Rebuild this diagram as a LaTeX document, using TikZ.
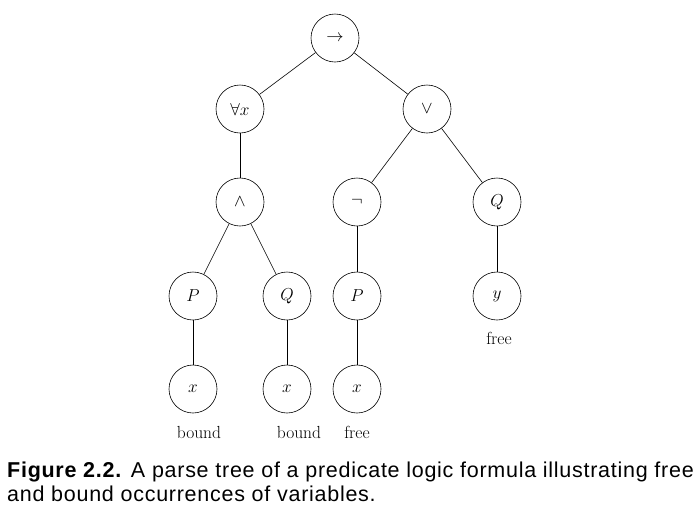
\documentclass[tikz,border=0pt]{standalone}
\usepackage{fontspec}
\newfontfamily\capfont[LetterSpace=3.4]{Liberation Sans}
\begin{document}
\begin{tikzpicture}[x=1pt,y=-1pt,
  tn/.style={draw,circle,minimum size=48pt,inner sep=0pt,line width=0.6pt,font=\fontsize{17.5}{20}\selectfont},
  lbl/.style={font=\fontsize{17.5}{20}\selectfont},
  captext/.style={anchor=base west,inner sep=0pt,font=\capfont\fontsize{21.5}{24}\selectfont},
  edge/.style={line width=0.6pt}]
\useasboundingbox (0,0) rectangle (699,512);
\node[tn] (root) at (335,38) {$\rightarrow$};
\node[tn] (fa) at (240,109) {$\forall x$};
\node[tn] (or) at (427,109) {$\vee$};
\node[tn] (and) at (240,202) {$\wedge$};
\node[tn] (neg) at (357,202) {$\neg$};
\node[tn] (q1) at (497,202) {$Q$};
\node[tn] (p1) at (193,296) {$P$};
\node[tn] (q2) at (287,296) {$Q$};
\node[tn] (p2) at (357,296) {$P$};
\node[tn] (y) at (497,296) {$y$};
\node[tn] (x1) at (193,389) {$x$};
\node[tn] (x2) at (287,389) {$x$};
\node[tn] (x3) at (357,389) {$x$};
\node[lbl] (b1) at (199,432) {bound};
\node[lbl] (b2) at (299,432) {bound};
\node[lbl] (f1) at (357,432) {free};
\node[lbl] (f2) at (499,338) {free};
\draw[edge] (root) -- (fa);
\draw[edge] (root) -- (or);
\draw[edge] (fa) -- (and);
\draw[edge] (or) -- (neg);
\draw[edge] (or) -- (q1);
\draw[edge] (and) -- (p1);
\draw[edge] (and) -- (q2);
\draw[edge] (neg) -- (p2);
\draw[edge] (q1) -- (y);
\draw[edge] (p1) -- (x1);
\draw[edge] (q2) -- (x2);
\draw[edge] (p2) -- (x3);
\node[captext] (cap1) at (7,477) {\textbf{Figure 2.2.} A parse tree of a predicate logic formula illustrating free};
\node[captext] (cap2) at (7,501) {and bound occurrences of variables.};
\end{tikzpicture}
\end{document}
